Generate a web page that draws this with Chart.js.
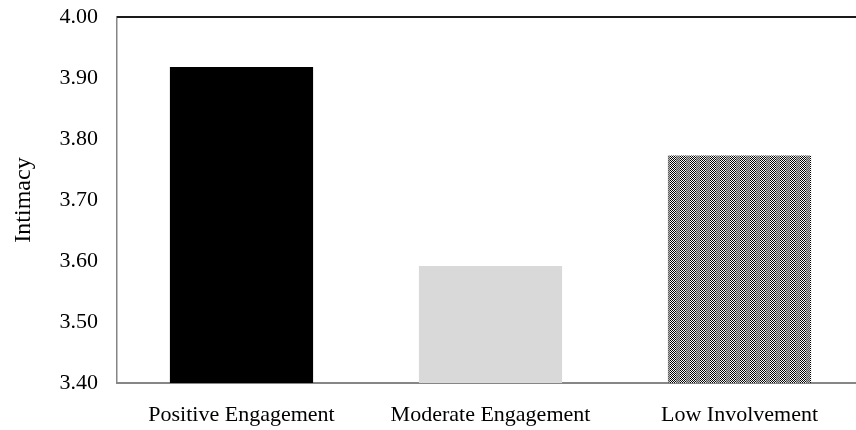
<!DOCTYPE html>
<html>
<head>
<meta charset="utf-8">
<script src="https://cdn.jsdelivr.net/npm/chart.js@4"></script>
<style>
  html, body { margin: 0; padding: 0; background: #fff; overflow: hidden; }
  #wrap { width: 864px; height: 430px; }
</style>
</head>
<body>
<div id="wrap"><canvas id="myChart"></canvas></div>
<script>
let categories = ['Positive Engagement', 'Moderate Engagement', 'Low Involvement']
let intimacy = [3.918, 3.592, 3.773]
let yTicks = [3.4, 3.5, 3.6, 3.7, 3.8, 3.9, 4.0]

// checker pattern for the third bar
function makePattern() {
    let c = document.createElement('canvas')
    c.width = 10
    c.height = 2
    let g = c.getContext('2d')
    for (let x = 0; x < 10; x++) {
        for (let y = 0; y < 2; y++) {
            let on = (x + y) % 2 === 0
            if (x < 6) g.fillStyle = on ? '#000' : '#fff'
            else g.fillStyle = on ? '#5a5a5a' : '#b4b4b4'
            g.fillRect(x, y, 1, 1)
        }
    }
    return g.createPattern(c, 'repeat')
}

let serif = 'Liberation Serif, Times New Roman, serif'

let topLine = {
    id: 'topLine',
    afterDraw(chart) {
        let a = chart.chartArea
        let c = chart.ctx
        c.save()
        c.strokeStyle = '#1a1a1a'
        c.lineWidth = 2
        c.beginPath()
        c.moveTo(a.left, a.top)
        c.lineTo(chart.width, a.top)
        c.stroke()
        c.restore()
    },
}

let ctx = document.getElementById('myChart').getContext('2d')
let myChart = new Chart(ctx, {
    type: 'bar',
    data: {
        labels: categories,
        datasets: [{
            data: intimacy,
            backgroundColor: ['#000000', '#d9d9d9', makePattern()],
            borderWidth: 0,
            categoryPercentage: 1,
            barPercentage: 0.575,
        }],
    },
    options: {
        responsive: true,
        maintainAspectRatio: false,
        animation: false,
        layout: { padding: { top: 17, left: 0, right: 0, bottom: 0 } },
        plugins: { legend: { display: false }, tooltip: { enabled: false } },
        scales: {
            x: {
                grid: { display: false },
                border: { color: '#868686', width: 2 },
                ticks: { color: '#000', font: { family: serif, size: 22 }, padding: 11 },
                afterFit: (s) => { s.height = 47 },
            },
            y: {
                min: 3.4,
                max: 4.0,
                grid: { display: false },
                border: { color: '#868686', width: 1.5 },
                afterBuildTicks: (s) => { s.ticks = yTicks.map(v => ({ value: v })) },
                ticks: {
                    color: '#000',
                    font: { family: serif, size: 22 },
                    padding: 11,
                    callback: (v) => Number(v).toFixed(2),
                },
                title: {
                    display: true,
                    text: 'Intimacy',
                    color: '#000',
                    font: { family: serif, size: 24 },
                    padding: { top: 9, bottom: 0 },
                },
                afterFit: (s) => {
                    s.width = 117
                    s.paddingTop = 0
                    s.paddingBottom = 0
                },
            },
        },
    },
    plugins: [topLine],
})
</script>
</body>
</html>
